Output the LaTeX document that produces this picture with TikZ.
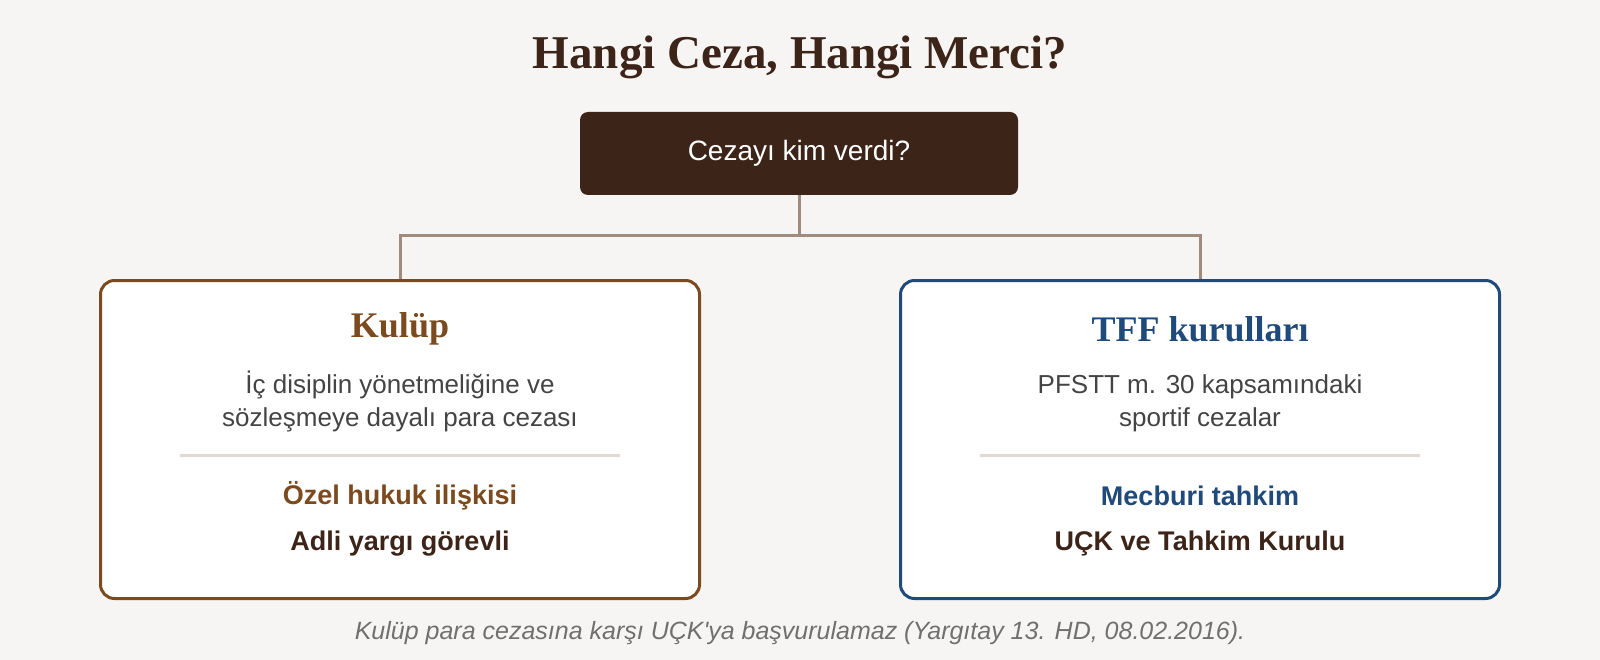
\documentclass[tikz,border=0pt]{standalone}
\usepackage{fontspec}
\setmainfont{Liberation Serif}
\setsansfont{Liberation Sans}
\usetikzlibrary{positioning}
\definecolor{zemin}{HTML}{F7F5F3}
\definecolor{koyu}{HTML}{3C2418}
\definecolor{kahve}{HTML}{7B4A1E}
\definecolor{lacivert}{HTML}{1F4A7A}
\definecolor{hat}{HTML}{A08C7E}
\definecolor{cizgi}{HTML}{E2DAD2}
\definecolor{govde}{HTML}{444444}
\definecolor{dipnot}{HTML}{707070}

\begin{document}
\begin{tikzpicture}[x=1pt, y=-1pt]
	\tikzset{kutu/.style={draw, line width=3pt, rounded corners=14pt, fill=white, minimum width=599pt, minimum height=318pt},
		baslik/.style={font=\fontsize{36}{40}\selectfont\bfseries},
		govdemetin/.style={text=govde, align=center, font=\sffamily\fontsize{26}{33}\selectfont},
		hukuk/.style={font=\sffamily\bfseries\fontsize{27}{30}\selectfont},
		merci/.style={text=koyu, font=\sffamily\bfseries\fontsize{27}{30}\selectfont},
		ayrac/.style={draw=cizgi, line width=3pt},
		bag/.style={draw=hat, line width=3pt}}
	
	\useasboundingbox[fill=zemin] (0,0) rectangle (1600,660);
	
	\node[text=koyu, font=\fontsize{47}{50}\selectfont\bfseries] (title) at (800,57) {Hangi Ceza, Hangi Merci?};
	\node[fill=koyu, rounded corners=8pt, minimum width=438pt, minimum height=83pt, text=white, font=\sffamily\fontsize{28}{30}\selectfont] (soru) at (799,153.5) {Cezayı kim verdi?};
	
	% sol: kulup
	\node[kutu, draw=kahve] (kulup) at (400,439.5) {};
	\node[baslik, text=kahve] (kulupb) at (400,329) {Kulüp};
	\node[govdemetin] (kulupm) at (400,401) {İç disiplin yönetmeliğine ve\\sözleşmeye dayalı para cezası};
	\coordinate (k1) at (180,455);
	\coordinate (k2) at (620,455);
	\node[hukuk, text=kahve] (ozel) at (400,496) {Özel hukuk ilişkisi};
	\node[merci] (adli) at (400,544) {Adli yargı görevli};
	
	% sag: tff
	\node[kutu, draw=lacivert] (tff) at (1200,439.5) {};
	\node[baslik, text=lacivert] (tffb) at (1200,329) {TFF kurulları};
	\node[govdemetin] (tffm) at (1200,403) {PFSTT m. 30 kapsamındaki\\sportif cezalar};
	\coordinate (t1) at (980,455);
	\coordinate (t2) at (1420,455);
	\node[hukuk, text=lacivert] (mecburi) at (1200,496) {Mecburi tahkim};
	\node[merci] (uck) at (1200,544) {UÇK ve Tahkim Kurulu};
	
	\coordinate (catal) at (799,236);
	\draw[bag] (soru.south) -- (catal);
	\draw[bag] (kulup.north) |- (catal) -| (tff.north);
	\draw[ayrac] (k1) -- (k2);
	\draw[ayrac] (t1) -- (t2);
	
	\node[text=dipnot, font=\sffamily\itshape\fontsize{25}{28}\selectfont] (not) at (800,633) {Kulüp para cezasına karşı UÇK\textquotesingle ya başvurulamaz (Yargıtay 13. HD, 08.02.2016).};
\end{tikzpicture}
\end{document}
